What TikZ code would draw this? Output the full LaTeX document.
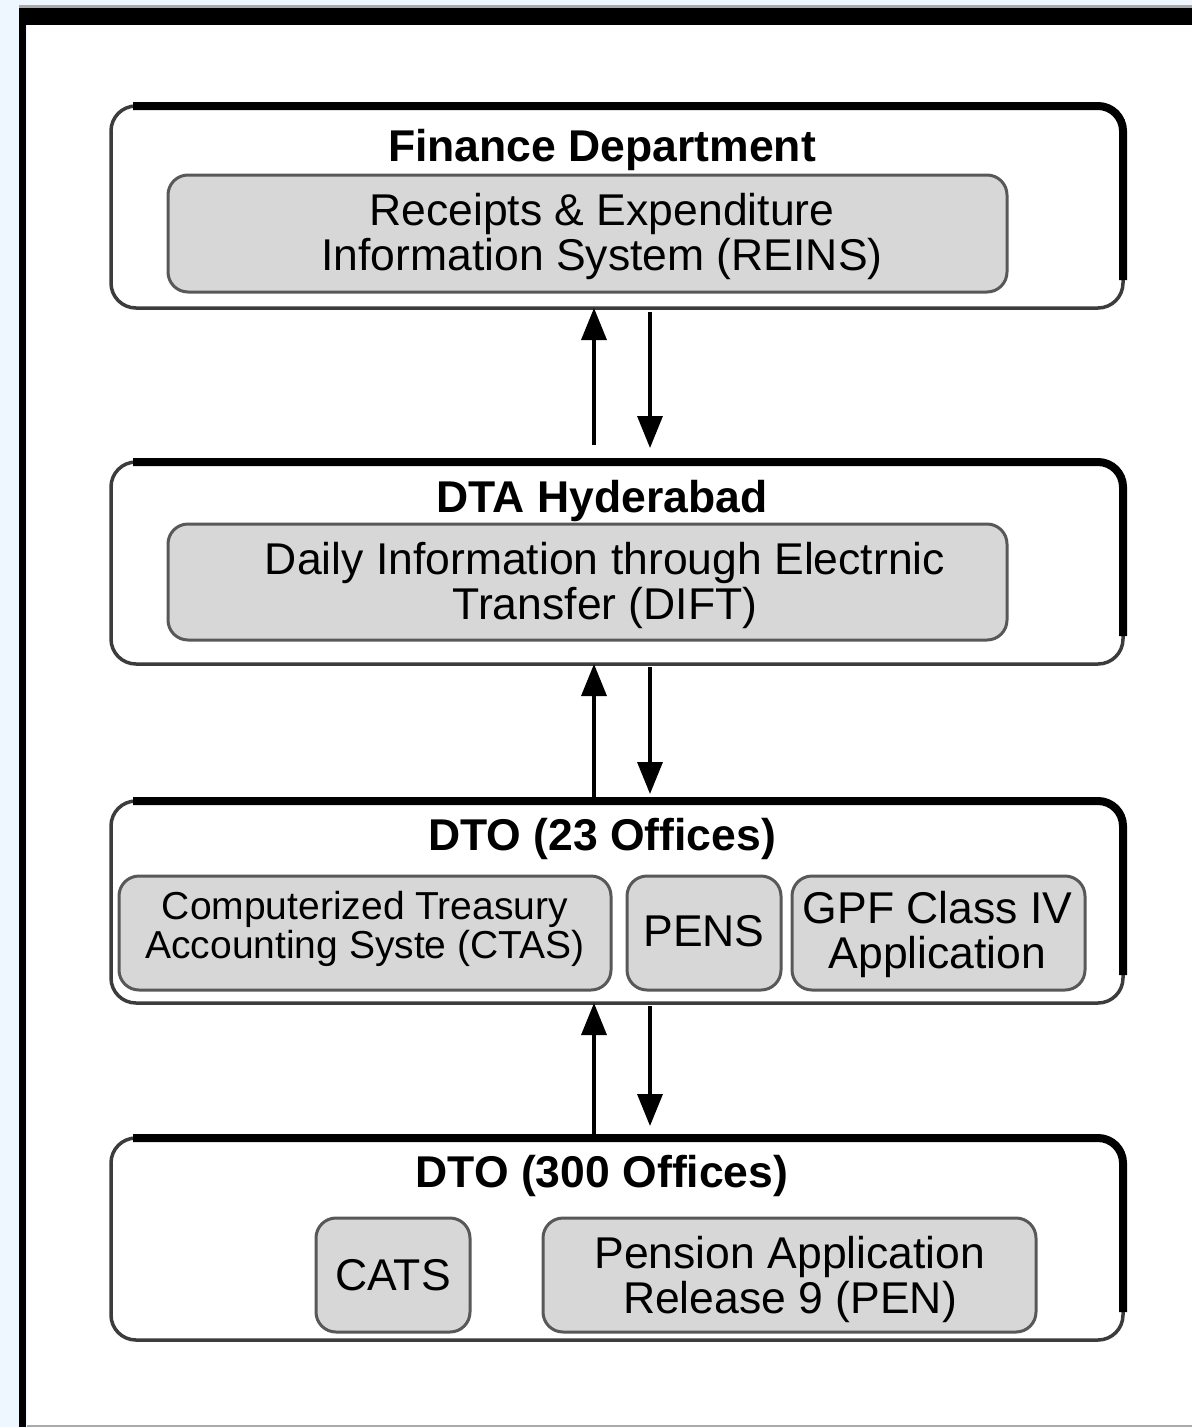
\documentclass[tikz,border=0pt]{standalone}
\usepackage{fontspec}
\setmainfont{Liberation Sans}
\usetikzlibrary{arrows.meta}
\definecolor{bgblue}{HTML}{EEF7FF}
\definecolor{innerfill}{HTML}{D7D7D7}
\definecolor{innerline}{HTML}{585858}
\definecolor{outerline}{HTML}{3C3C3C}
\definecolor{edgegray}{HTML}{AAAAAA}
\begin{document}
\begin{tikzpicture}[x=1pt,y=-1pt,
  outerbox/.style={draw=outerline, line width=3.5pt, fill=white, rounded corners=25pt,
    minimum width=1012pt, minimum height=202pt, inner sep=0pt, outer sep=0pt},
  innerbox/.style={draw=innerline, line width=3pt, fill=innerfill, rounded corners=20pt,
    inner sep=0pt, outer sep=0pt, align=center},
  thickedge/.style={draw=black, line width=8pt, rounded corners=25pt},
  titletxt/.style={font=\fontsize{44.5pt}{45pt}\selectfont\bfseries, inner sep=0pt},
  bodytxt/.style={font=\fontsize{44.5pt}{45pt}\selectfont, align=center, inner sep=0pt},
  flow/.style={line width=3.5pt, -{Triangle[length=32pt,width=25pt]}}
]
% background and frame
\useasboundingbox (0,0) rectangle (1192,1427);
\fill[bgblue] (0,0) rectangle (1192,1427);
\fill[white] (27,25) rectangle (1192,1425);
\fill[edgegray] (19,5) rectangle (1192,8);
\fill[black] (19,8) rectangle (1192,25);
\fill[black] (19,8) rectangle (26,1427);
\fill[edgegray] (27,1425) rectangle (1192,1427);

% outer boxes
\node[outerbox] (fin) at (617,207) {};
\node[outerbox] (dta) at (617,563) {};
\node[outerbox] (dto23) at (617,902) {};
\node[outerbox] (dto300) at (617,1239) {};
\foreach \b in {fin,dta,dto23,dto300}{
  \draw[thickedge] ([xshift=22pt]\b.north west) -- (\b.north east) -- ([yshift=28pt]\b.south east);
}

% titles
\node[titletxt] (finT) at (602,150) {Finance Department};
\node[titletxt] (dtaT) at (602,501) {DTA Hyderabad};
\node[titletxt] (dto23T) at (602,839) {DTO (23 Offices)};
\node[titletxt] (dto300T) at (602,1176) {DTO (300 Offices)};

% inner boxes
\node[innerbox, minimum width=839pt, minimum height=117pt] (reins) at (587.5,233.5) {};
\node[bodytxt] (reinsT) at (602,236) {Receipts \& Expenditure\\Information System (REINS)};
\node[innerbox, minimum width=839pt, minimum height=116pt] (dift) at (587.5,582) {};
\node[bodytxt] (diftT) at (605,585) {Daily Information through Electrnic\\Transfer (DIFT)};

\node[innerbox, minimum width=492pt, minimum height=114pt,
  font=\fontsize{39pt}{38pt}\selectfont] (ctas) at (365,933)
  {\raisebox{16pt}{\shortstack{Computerized Treasury\\[-1pt]Accounting Syste (CTAS)}}};
\node[innerbox, minimum width=154pt, minimum height=114pt,
  font=\fontsize{44.5pt}{45pt}\selectfont] (pens) at (704,933) {\raisebox{5pt}{PENS}};
\node[innerbox, minimum width=293pt, minimum height=114pt] (gpf) at (938.5,933) {};
\node[bodytxt] (gpfT) at (937.5,934) {GPF Class IV\\Application};

\node[innerbox, minimum width=154pt, minimum height=114pt,
  font=\fontsize{44.5pt}{45pt}\selectfont] (cats) at (393,1275) {CATS};
\node[innerbox, minimum width=493pt, minimum height=114pt] (pen) at (789.5,1275) {};
\node[bodytxt] (penT) at (790,1279) {Pension Application\\Release 9 (PEN)};

% connectors
\draw[flow] ([xshift=-23pt,yshift=17pt]dta.north) -- ([xshift=-23pt]fin.south);
\draw[flow] ([xshift=33pt,yshift=-4pt]fin.south) -- ([xshift=33pt,yshift=14pt]dta.north);
\draw[flow] ([xshift=-23pt]dto23.north) -- ([xshift=-23pt]dta.south);
\draw[flow] ([xshift=33pt,yshift=-3pt]dta.south) -- ([xshift=33pt,yshift=7pt]dto23.north);
\draw[flow] ([xshift=-23pt]dto300.north) -- ([xshift=-23pt]dto23.south);
\draw[flow] ([xshift=33pt,yshift=-3pt]dto23.south) -- ([xshift=33pt,yshift=12pt]dto300.north);
\end{tikzpicture}
\end{document}
